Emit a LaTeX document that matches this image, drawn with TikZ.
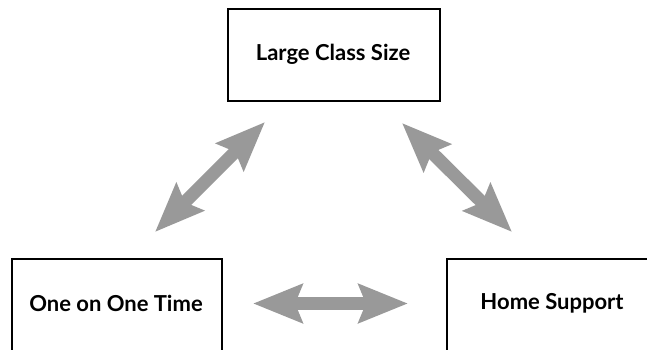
\documentclass[tikz,border=0pt]{standalone}
\usepackage{fontspec}
\setmainfont{Lato}
\usetikzlibrary{arrows.meta}
\definecolor{arrowgray}{HTML}{999999}
\tikzset{
  box/.style={draw=black, line width=2pt, fill=white, inner sep=0pt},
  lbl/.style={font=\fontsize{22}{26}\selectfont\bfseries, inner sep=0pt},
  dblarrow/.style={draw=arrowgray, line width=13pt,
    {Stealth[length=49pt,width=38pt,inset=7pt]}-{Stealth[length=49pt,width=38pt,inset=7pt]}}
}
\begin{document}
\begin{tikzpicture}[x=1pt,y=-1pt]
\useasboundingbox (0,0) rectangle (647,349);
\clip (0,0) rectangle (647,349);
% boxes
\node[box, minimum width=212pt, minimum height=92pt] (topBox) at (334,55) {};
\node[lbl] (top) at (333,54) {Large Class Size};
\node[box, minimum width=210pt, minimum height=120pt] (leftBox) at (117,319) {};
\node[lbl] (left) at (116,303) {One on One Time};
\node[box, minimum width=220pt, minimum height=120pt] (rightBox) at (557,319) {};
\node[lbl] (right) at (552,303) {Home Support};
% arrow end points
\coordinate (a1) at (265,122);
\coordinate (a2) at (155,232);
\coordinate (b1) at (402,123);
\coordinate (b2) at (512,232);
\coordinate (c1) at (253,303.5);
\coordinate (c2) at (408,303.5);
\draw[dblarrow] (a2) -- (a1);
\draw[dblarrow] (b1) -- (b2);
\draw[dblarrow] (c1) -- (c2);
\end{tikzpicture}
\end{document}
